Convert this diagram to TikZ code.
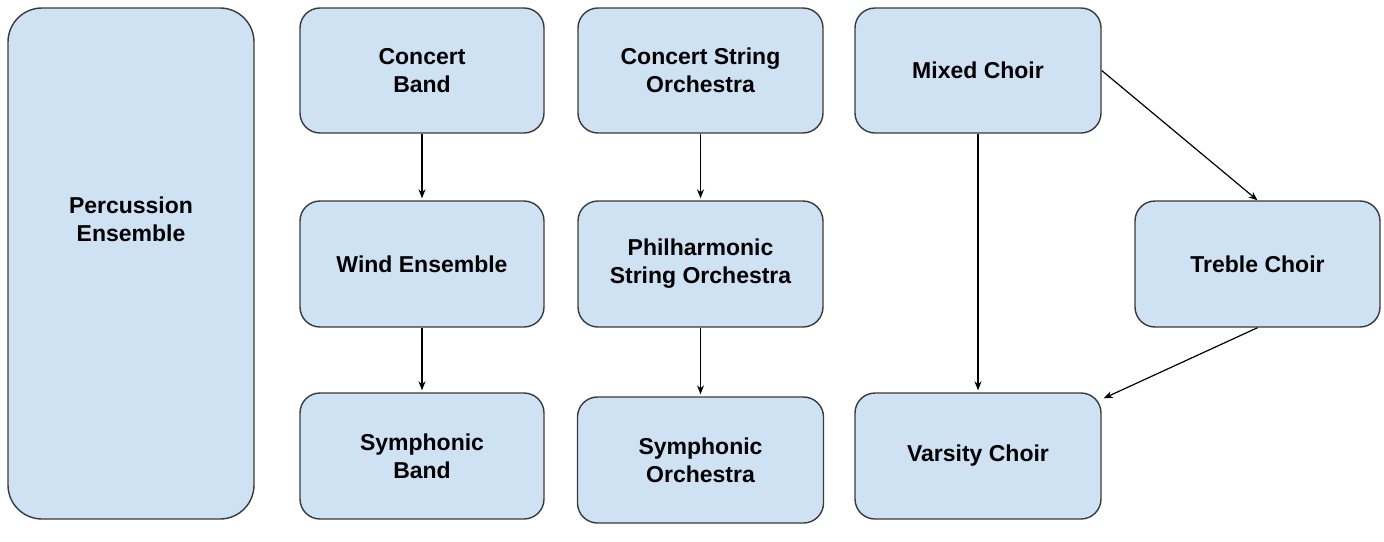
\documentclass[tikz,border=0pt]{standalone}
\usepackage{fontspec}
\setmainfont{Liberation Sans}
\usetikzlibrary{arrows.meta}
\definecolor{boxfill}{HTML}{CFE2F3}
\definecolor{boxline}{HTML}{3A3A3A}
\begin{document}
\begin{tikzpicture}[x=1pt,y=-1pt,
  boxfont/.style={align=center,font=\fontsize{23}{28}\selectfont\bfseries},
  box/.style={draw=boxline,line width=1.4pt,fill=boxfill,rounded corners=20pt,
    inner sep=0pt,boxfont},
  conn/.style={draw=black,line width=1.2pt,-{Stealth[length=9pt,width=7pt]},shorten >=2pt}]
\useasboundingbox (0,0) rectangle (1384,541);
\node[box,rounded corners=34pt,minimum width=246pt,minimum height=511pt,
  label={[boxfont,yshift=44.5pt]center:Percussion\\Ensemble}] (perc) at (131,263.5) {};
\node[box,minimum width=244pt,minimum height=125pt] (cband) at (422,70.5) {Concert\\Band};
\node[box,minimum width=244pt,minimum height=126pt] (wind) at (422,264) {Wind Ensemble};
\node[box,minimum width=244pt,minimum height=126pt] (sband) at (422,456) {Symphonic\\Band};
\node[box,minimum width=245pt,minimum height=125pt] (cso) at (700.5,70.5) {Concert String\\Orchestra};
\node[box,minimum width=245pt,minimum height=126pt] (phil) at (700.5,264) {Philharmonic\\String Orchestra};
\node[box,minimum width=246pt,minimum height=126pt] (sorch) at (700.5,460) {Symphonic\\Orchestra};
\node[box,minimum width=246pt,minimum height=125pt] (mixed) at (978,70.5) {Mixed Choir};
\node[box,minimum width=245pt,minimum height=126pt] (treble) at (1257.5,264) {Treble Choir};
\node[box,minimum width=246pt,minimum height=126pt] (varsity) at (978,456) {Varsity Choir};
\draw[conn] (cband.south) -- (wind.north);
\draw[conn] (wind.south) -- (sband.north);
\draw[conn] (cso.south) -- (phil.north);
\draw[conn] (phil.south) -- (sorch.north);
\draw[conn] (mixed.south) -- (varsity.north);
\draw[conn,shorten >=0pt] (mixed.east) -- (treble.north);
\draw[conn,shorten >=0pt] (treble.south) -- ([xshift=2pt,yshift=-6pt]varsity.north east);
\end{tikzpicture}
\end{document}
